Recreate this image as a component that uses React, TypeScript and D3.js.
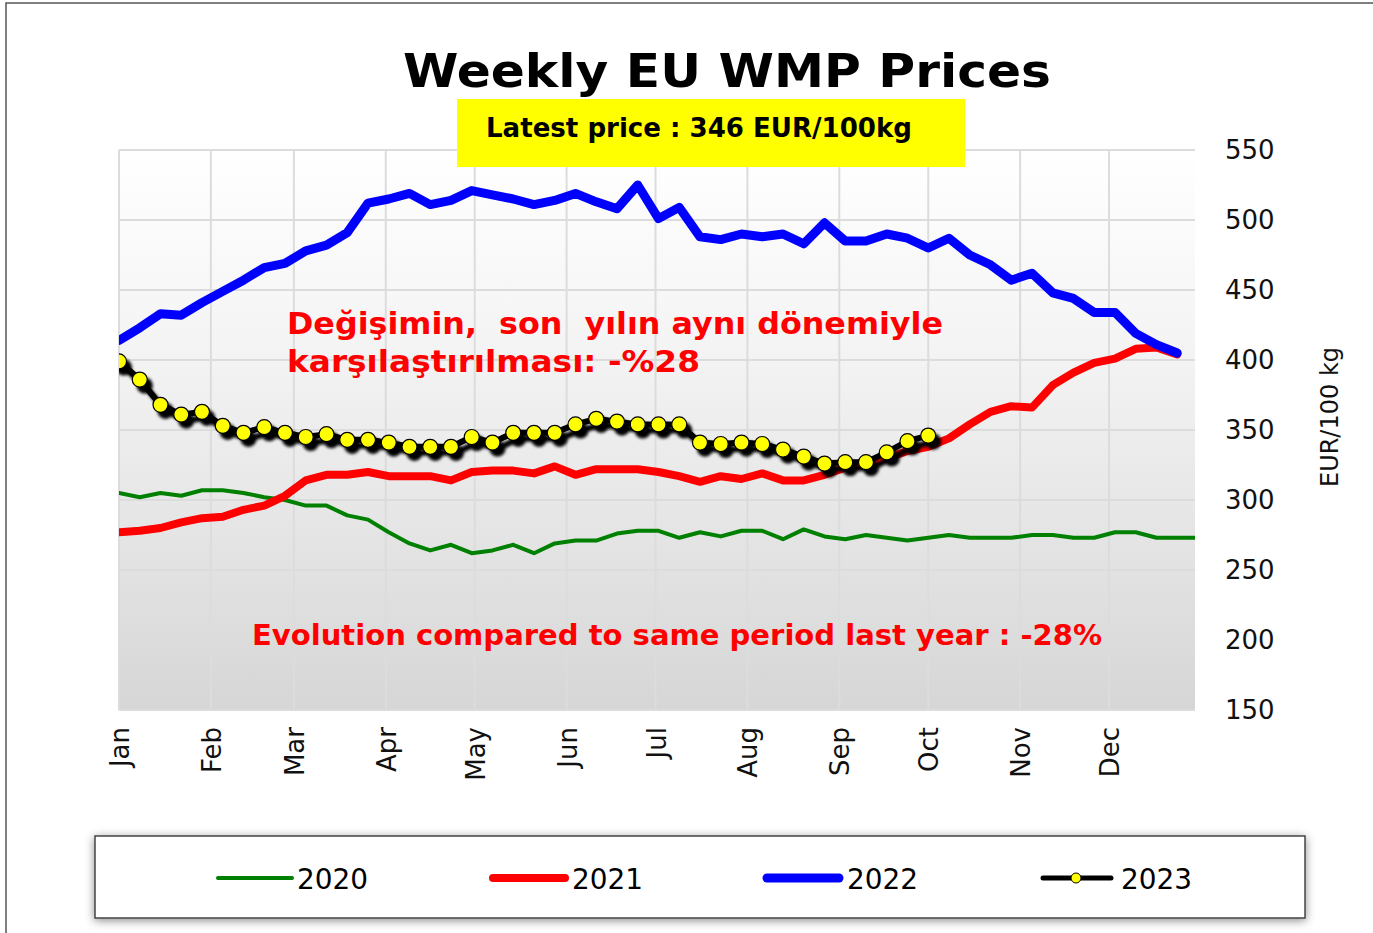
import React from "react";
import * as d3 from "d3";

const months = ["Jan", "Feb", "Mar", "Apr", "May", "Jun", "Jul", "Aug", "Sep", "Oct", "Nov", "Dec"];
const monthStartDays = [0, 31, 59, 90, 120, 151, 181, 212, 243, 273, 304, 334];
const yTicks = [150, 200, 250, 300, 350, 400, 450, 500, 550];

const s2020 = [305, 302, 305, 303, 307, 307, 305, 302, 300, 296, 296, 289, 286, 277, 269, 264, 268, 262, 264, 268, 262, 269, 271, 271, 276, 278, 278, 273, 277, 274, 278, 278, 272, 279, 274, 272, 275, 273, 271, 273, 275, 273, 273, 273, 275, 275, 273, 273, 277, 277, 273, 273, 273];
const s2021 = [277, 278, 280, 284, 287, 288, 293, 296, 303, 314, 318, 318, 320, 317, 317, 317, 314, 320, 321, 321, 319, 324, 318, 322, 322, 322, 320, 317, 313, 317, 315, 319, 314, 314, 318, 323, 326, 330, 335, 338, 344, 354, 363, 367, 366, 382, 391, 398, 401, 408, 409, 404];
const s2022 = [414, 423, 433, 432, 441, 449, 457, 466, 469, 478, 482, 491, 512, 515, 519, 511, 514, 521, 518, 515, 511, 514, 519, 513, 508, 525, 501, 509, 488, 486, 490, 488, 490, 483, 498, 485, 485, 490, 487, 480, 487, 475, 468, 457, 462, 448, 444, 434, 434, 419, 411, 405];
const s2023 = [399, 386, 368, 361, 363, 353, 348, 352, 348, 345, 347, 343, 343, 341, 338, 338, 338, 345, 341, 348, 348, 348, 354, 358, 356, 354, 354, 354, 341, 340, 341, 340, 336, 331, 326, 327, 327, 334, 342, 346];

const seriesList = [
  { name: "2020", values: s2020, color: "#008000", width: 4 },
  { name: "2021", values: s2021, color: "#ff0000", width: 8 },
  { name: "2022", values: s2022, color: "#0000ff", width: 9 },
];

const W = 1373;
const H = 933;
const plot = { left: 119, right: 1195, top: 150, bottom: 710 };

export default function App() {
  const x = d3.scaleLinear().domain([0, 363]).range([plot.left, plot.right]);
  const y = d3.scaleLinear().domain([150, 550]).range([plot.bottom, plot.top]);
  const line = d3
    .line<number>()
    .x((_, i) => x(i * 7))
    .y((d) => y(d))
    .curve(d3.curveLinear);

  const legendItems = [
    { name: "2020", x1: 218, x2: 292, color: "#008000", w: 4, tx: 297 },
    { name: "2021", x1: 493, x2: 565, color: "#ff0000", w: 8, tx: 572 },
    { name: "2022", x1: 767, x2: 839, color: "#0000ff", w: 9, tx: 847 },
    { name: "2023", x1: 1043, x2: 1111, color: "#000000", w: 5, tx: 1121 },
  ];

  return (
    <svg
      width={W}
      height={H}
      style={{ position: "absolute", left: 0, top: 0, background: "#fff" }}
      fontFamily="'DejaVu Sans', Verdana, sans-serif"
    >
      <defs>
        <linearGradient id="bg" x1="0" y1="0" x2="0" y2="1">
          <stop offset="0" stopColor="#ffffff" />
          <stop offset="0.35" stopColor="#f4f4f4" />
          <stop offset="1" stopColor="#d6d6d6" />
        </linearGradient>
        <clipPath id="clip">
          <rect x={plot.left} y={plot.top - 10} width={plot.right - plot.left} height={plot.bottom - plot.top + 10} />
        </clipPath>
        <filter id="shadow" x="-10%" y="-10%" width="130%" height="140%">
          <feDropShadow dx="5" dy="6" stdDeviation="1.6" floodColor="#000" floodOpacity="1" />
        </filter>
        <filter id="boxshadow" x="-5%" y="-30%" width="110%" height="160%">
          <feDropShadow dx="0" dy="2" stdDeviation="5" floodColor="#000" floodOpacity="0.45" />
        </filter>
      </defs>

      {/* outer frame */}
      <rect x={6} y={3} width={W + 10} height={H + 10} fill="none" stroke="#555" strokeWidth={1.5} />

      {/* title */}
      <text x={727} y={87} textAnchor="middle" fontWeight="bold" fontSize={46} textLength={648} lengthAdjust="spacingAndGlyphs">
        Weekly EU WMP Prices
      </text>

      {/* plot background */}
      <rect x={plot.left} y={plot.top} width={plot.right - plot.left} height={plot.bottom - plot.top} fill="url(#bg)" />

      {/* grid */}
      {yTicks.map((t) => (
        <line key={"gy" + t} x1={plot.left} x2={plot.right} y1={y(t)} y2={y(t)} stroke="#dcdcdc" strokeWidth={2} />
      ))}
      {monthStartDays.map((d, i) => (
        <line key={"gx" + i} x1={x(d)} x2={x(d)} y1={plot.top} y2={plot.bottom} stroke="#dcdcdc" strokeWidth={2} />
      ))}

      {/* latest price box */}
      <rect x={457} y={99} width={508} height={68} fill="#ffff00" />
      <text x={699} y={137} textAnchor="middle" fontWeight="bold" fontSize={26} textLength={426} lengthAdjust="spacingAndGlyphs">
        Latest price : 346 EUR/100kg
      </text>

      {/* series */}
      <g clipPath="url(#clip)">
        {seriesList.map((s) => (
          <path
            key={s.name}
            d={line(s.values) || ""}
            fill="none"
            stroke={s.color}
            strokeWidth={s.width}
            strokeLinejoin="round"
            strokeLinecap="round"
          />
        ))}
        <g filter="url(#shadow)">
          <path d={line(s2023) || ""} fill="none" stroke="#000" strokeWidth={6} strokeLinejoin="round" />
          {s2023.map((v, i) => (
            <circle key={i} cx={x(i * 7)} cy={y(v)} r={7.5} fill="#ffff00" stroke="#000" strokeWidth={1.2} />
          ))}
        </g>
      </g>

      {/* annotations */}
      <text x={287} y={334} fill="#ff0000" fontWeight="bold" fontSize={30} textLength={656} lengthAdjust="spacingAndGlyphs" xmlSpace="preserve">
        Değişimin,  son  yılın aynı dönemiyle
      </text>
      <text x={287} y={372} fill="#ff0000" fontWeight="bold" fontSize={30} textLength={413} lengthAdjust="spacingAndGlyphs">
        karşılaştırılması: -%28
      </text>
      <text x={252} y={645} fill="#ff0000" fontWeight="bold" fontSize={28} textLength={850} lengthAdjust="spacingAndGlyphs">
        Evolution compared to same period last year : -28%
      </text>

      {/* y axis labels */}
      {yTicks.map((t) => (
        <text key={"yl" + t} x={1225} y={y(t) + 9} fontSize={26} fill="#111">
          {t}
        </text>
      ))}
      <text
        transform={`translate(1338, 417) rotate(-90)`}
        textAnchor="middle"
        fontSize={24}
        fill="#111"
      >
        EUR/100 kg
      </text>

      {/* x axis labels */}
      {monthStartDays.map((d, i) => (
        <text
          key={"xl" + i}
          transform={`translate(${x(d) + 10}, 727) rotate(-90)`}
          textAnchor="end"
          fontSize={26}
          fill="#111"
        >
          {months[i]}
        </text>
      ))}

      {/* legend */}
      <rect x={95} y={836} width={1210} height={82} fill="#fff" stroke="#444" strokeWidth={1.5} filter="url(#boxshadow)" />
      {legendItems.map((it) => (
        <g key={it.name}>
          <line x1={it.x1} x2={it.x2} y1={878} y2={878} stroke={it.color} strokeWidth={it.w} strokeLinecap="round" />
          {it.name === "2023" && <circle cx={1076} cy={878} r={5} fill="#ffff00" stroke="#000" strokeWidth={1} />}
          <text
            x={it.tx}
            y={889}
            fontSize={29}
            fontFamily="'DejaVu Sans Condensed', 'DejaVu Sans', sans-serif"
            textLength={71}
            lengthAdjust="spacingAndGlyphs"
            fill="#000"
          >
            {it.name}
          </text>
        </g>
      ))}
    </svg>
  );
}
